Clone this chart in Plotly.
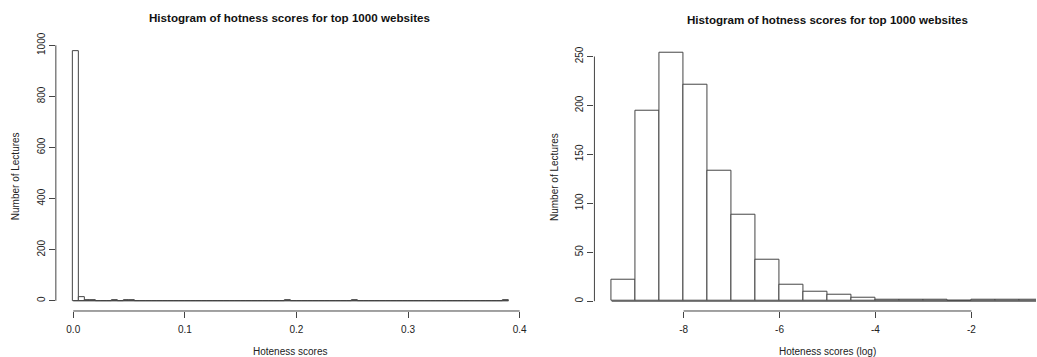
import plotly.graph_objects as go

W, H = 1037, 357

# ---- data ----
# Left histogram: raw hotness scores, bin width 0.005 from 0 to 0.39
lin_breaks_start = 0.0
lin_bin_width = 0.005
lin_nbins = 78
lin_counts = [0] * lin_nbins
lin_nonzero = {0: 978, 1: 13, 2: 2, 3: 1, 7: 1, 9: 1, 10: 1, 38: 1, 50: 1, 77: 1}
for k, v in lin_nonzero.items():
    lin_counts[k] = v

# Right histogram: log hotness scores, bin width 0.5 from -9.5 to -0.5
log_breaks_start = -9.5
log_bin_width = 0.5
log_counts = [22, 195, 254, 221, 133, 88, 42, 17, 10, 7, 4, 1, 2, 1, 0, 1, 1, 1]

lin_xticks = [0.0, 0.1, 0.2, 0.3, 0.4]
lin_xticklabels = ["0.0", "0.1", "0.2", "0.3", "0.4"]
lin_yticks = [0, 200, 400, 600, 800, 1000]
log_xticks = [-8, -6, -4, -2]
log_xticklabels = ["-8", "-6", "-4", "-2"]
log_yticks = [0, 50, 100, 150, 200, 250]

title_text = "Histogram of hotness scores for top 1000 websites"
ylab = "Number of Lectures"
xlab_left = "Hoteness scores"
xlab_right = "Hoteness scores (log)"

FONT = "Liberation Sans, Arial, Helvetica, sans-serif"
LINE = "#444444"
TXT = "#222222"


def px(x):
    return x / W


def py(y):
    return 1 - y / H


lin_centers = [lin_breaks_start + (i + 0.5) * lin_bin_width for i in range(lin_nbins)]
log_centers = [log_breaks_start + (i + 0.5) * log_bin_width for i in range(len(log_counts))]
lin_end = lin_breaks_start + lin_nbins * lin_bin_width
log_end = log_breaks_start + len(log_counts) * log_bin_width

fig = go.Figure()

# baselines (R draws zero-height bins as flat rectangles)
fig.add_trace(go.Scatter(x=[lin_breaks_start, lin_end], y=[0, 0], mode="lines",
                         line=dict(color=LINE, width=1), xaxis="x", yaxis="y",
                         showlegend=False, hoverinfo="skip"))
fig.add_trace(go.Bar(x=lin_centers, y=lin_counts, width=lin_bin_width,
                     marker=dict(color="white", line=dict(color=LINE, width=1)),
                     xaxis="x", yaxis="y", showlegend=False))

fig.add_trace(go.Scatter(x=[log_breaks_start, log_end], y=[0, 0], mode="lines",
                         line=dict(color=LINE, width=1), xaxis="x2", yaxis="y2",
                         showlegend=False, hoverinfo="skip"))
fig.add_trace(go.Bar(x=log_centers, y=log_counts, width=log_bin_width,
                     marker=dict(color="white", line=dict(color=LINE, width=1)),
                     xaxis="x2", yaxis="y2", showlegend=False))

tickfont = dict(family=FONT, size=10, color=TXT)
common = dict(showgrid=False, zeroline=False, showline=False, ticks="outside",
              ticklen=6, tickwidth=1, tickcolor=LINE, tickfont=tickfont)

# R axis extension 4%
lin_pad = 0.04 * (lin_end - lin_breaks_start)
log_pad = 0.04 * (log_end - log_breaks_start)

fig.update_layout(
    width=W, height=H,
    margin=dict(l=0, r=0, t=0, b=0),
    paper_bgcolor="white", plot_bgcolor="white",
    bargap=0,
    xaxis=dict(domain=[px(55.9), px(526.4)],
               range=[lin_breaks_start - lin_pad, lin_end + lin_pad],
               tickvals=lin_xticks, ticktext=lin_xticklabels, anchor="y",
               ticklabelstandoff=3, **common),
    yaxis=dict(domain=[py(310.6), py(32.4)], range=[-40, 1040],
               tickvals=lin_yticks, tickangle=-90, anchor="x", **common),
    xaxis2=dict(domain=[px(595.0), 1.0],
                range=[log_breaks_start - log_pad, log_breaks_start - log_pad + (W - 595.0) / 48.0],
                tickvals=log_xticks, ticktext=log_xticklabels, anchor="y2",
                ticklabelstandoff=3, **common),
    yaxis2=dict(domain=[py(310.6), py(44.1)], range=[-10, 260],
                tickvals=log_yticks, tickangle=-90, anchor="x2", **common),
)

# axis lines spanning first to last tick, as in R
shapes = [
    dict(type="line", xref="x", yref="y domain", x0=lin_xticks[0], x1=lin_xticks[-1], y0=0, y1=0,
         line=dict(color=LINE, width=1)),
    dict(type="line", xref="x domain", yref="y", x0=0, x1=0, y0=lin_yticks[0], y1=lin_yticks[-1],
         line=dict(color=LINE, width=1)),
    dict(type="line", xref="x2", yref="y2 domain", x0=log_xticks[0], x1=log_xticks[-1], y0=0, y1=0,
         line=dict(color=LINE, width=1)),
    dict(type="line", xref="x2 domain", yref="y2", x0=0, x1=0, y0=log_yticks[0], y1=log_yticks[-1],
         line=dict(color=LINE, width=1)),
]
fig.update_layout(shapes=shapes)

ann = []
tfont = dict(family=FONT, size=11.6, color="#111111", weight="bold")
lfont = dict(family=FONT, size=10, color=TXT)
ann.append(dict(text=title_text, x=px(290), y=py(15), xref="paper", yref="paper",
                showarrow=False, font=tfont, xanchor="center", yanchor="middle"))
ann.append(dict(text=title_text, x=px(828.5), y=py(16.7), xref="paper", yref="paper",
                showarrow=False, font=tfont, xanchor="center", yanchor="middle"))
ann.append(dict(text=xlab_left, x=px(290.5), y=py(351), xref="paper", yref="paper",
                showarrow=False, font=lfont, xanchor="center", yanchor="middle"))
ann.append(dict(text=xlab_right, x=px(828.5), y=py(351), xref="paper", yref="paper",
                showarrow=False, font=lfont, xanchor="center", yanchor="middle"))
ann.append(dict(text=ylab, x=px(15.7), y=py(175), xref="paper", yref="paper", textangle=-90,
                showarrow=False, font=lfont, xanchor="center", yanchor="middle"))
ann.append(dict(text=ylab, x=px(554.3), y=py(175.7), xref="paper", yref="paper", textangle=-90,
                showarrow=False, font=lfont, xanchor="center", yanchor="middle"))
fig.update_layout(annotations=ann)

fig.write_html("out.html")
